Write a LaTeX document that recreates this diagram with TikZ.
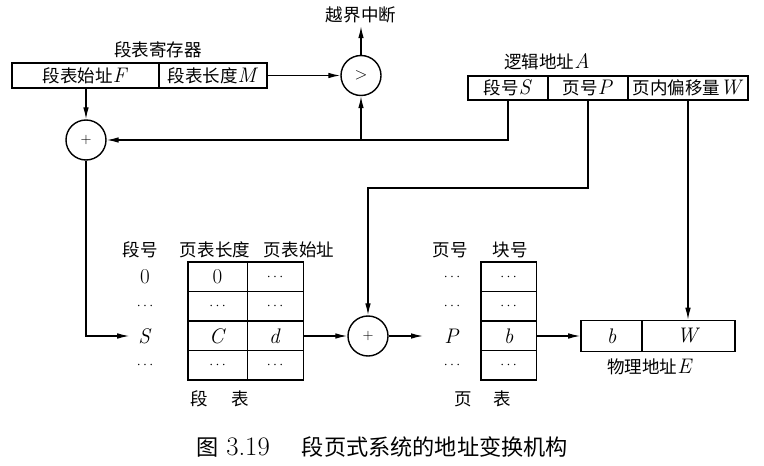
\documentclass[tikz,border=0pt]{standalone}
\usepackage{fontspec}
\newfontfamily\cjk[Scale=0.83]{Noto Sans CJK SC}
\newcommand\zh[1]{{\cjk #1}}
\newcommand\tecky{{\normalsize$\cdots$}}
\usetikzlibrary{positioning,arrows.meta,fit}
\tikzset{
  pole/.style={draw,line width=1.1pt,minimum height=0.6cm,inner sep=0pt},
  bunka/.style={draw,line width=0.7pt,minimum height=0.725cm,inner sep=0pt},
  ramec/.style={draw,line width=1.3pt,inner sep=0pt},
  kruh/.style={circle,draw,line width=1pt,minimum size=1cm,inner sep=0pt},
  sip/.style={-{Latex[length=3mm,width=1.4mm]},line width=0.9pt},
  popis/.style={inner sep=2pt},
}

\begin{document}
\begin{tikzpicture}[x=0.025cm,y=-0.025cm,font=\fontsize{15}{18}\selectfont]
  \useasboundingbox (0,0) rectangle (764,466);
  % segment table register, compare
  \node[pole,minimum width=3.675cm,minimum height=0.625cm] (regF) at (85.5,75.5) {\zh{段表始址}\textit{F}};
  \node[pole,minimum width=2.7cm,minimum height=0.625cm] (regM) at (213,75.5) {\zh{段表长度}\textit{M}};
  \node[popis] (regL) at (158,50) {\zh{段表寄存器}};
  \node[kruh] (cmp) at (361,75.5) {\fontsize{12}{14}\selectfont$>$}; \node[popis] (intr) at (361,15) {\zh{越界中断}};
  \node[kruh] (add1) at (86,140) {\normalsize$+$};
  % logical address
  \node[pole,minimum width=2cm] (laS) at (508,88) {\zh{段号}\textit{S}};
  \node[pole,minimum width=2cm] (laP) at (588,88) {\zh{页号}\textit{P}};
  \node[pole,minimum width=3cm] (laW) at (688,88) {\zh{页内偏移量}\textit{W}};
  \node[popis] (laL) at (547,62) {\zh{逻辑地址}\textit{A}};
  % segment table
  \node (shA) at (140,250) {\zh{段号}}; \node (shB) at (215,250) {\zh{页表长度}}; \node (shC) at (299,250) {\zh{页表始址}};
  \node (sr1) at (145,277) {0}; \node[bunka,minimum width=1.475cm] (s1a) at (217.5,277) {0}; \node[bunka,minimum width=1.4cm] (s1b) at (275,277) {\tecky};
  \node (sr2) at (145,306) {\tecky}; \node[bunka,minimum width=1.475cm] (s2a) at (217.5,306) {\tecky}; \node[bunka,minimum width=1.4cm] (s2b) at (275,306) {\tecky};
  \node (sr3) at (145,336) {\textit{S}}; \node[bunka,minimum width=1.475cm] (s3a) at (217.5,336) {\textit{C}}; \node[bunka,minimum width=1.4cm] (s3b) at (275,336) {\textit{d}};
  \node (sr4) at (145,365) {\tecky}; \node[bunka,minimum width=1.475cm] (s4a) at (217.5,365) {\tecky}; \node[bunka,minimum width=1.4cm] (s4b) at (275,365) {\tecky};
  \node[ramec,fit=(s1a)(s4b)] (segT) {};
  \node (segL) at (220,399) {\zh{段}\hspace{1.1em}\zh{表}};
  \node[kruh] (add2) at (368,336) {\normalsize$+$};
  % page table
  \node (phA) at (450,250) {\zh{页号}}; \node (phB) at (510,250) {\zh{块号}};
  \node (pr1) at (452,277) {\tecky}; \node[bunka,minimum width=1.375cm] (p1) at (508.5,277) {\tecky};
  \node (pr2) at (452,306) {\tecky}; \node[bunka,minimum width=1.375cm] (p2) at (508.5,306) {\tecky};
  \node (pr3) at (452,336) {\textit{P}}; \node[bunka,minimum width=1.375cm] (p3) at (508.5,336) {\textit{b}};
  \node (pr4) at (452,365) {\tecky}; \node[bunka,minimum width=1.375cm] (p4) at (508.5,365) {\tecky};
  \node[ramec,fit=(p1)(p4)] (pagT) {};
  \node (pagL) at (483,399) {\zh{页}\hspace{1em}\zh{表}};
  % physical address
  \node[pole,minimum width=1.525cm,minimum height=0.775cm] (phb) at (611.5,336) {\textit{b}};
  \node[pole,minimum width=2.325cm,minimum height=0.775cm] (phW) at (688.5,336) {\textit{W}};
  \node[popis] (phL) at (650,367) {\zh{物理地址}\textit{E}};
  \coordinate (ohyb) at (588,188); \coordinate (pin) at (423,336);
  \draw[sip] (add1 |- regF.south) -- (add1.north);
  \draw[sip] (regM.east) -- (cmp.west);
  \draw[sip] (cmp.north) -- (intr.south);
  \draw[sip] (laS.south) |- (add1.east);
  \draw[sip] (cmp |- add1) -- (cmp.south);
  \draw[sip] (laP.south) -- (ohyb) -| (add2.north);
  \draw[sip] (laW.south) -- (laW.south |- phW.north);
  \draw[sip,shorten >=3pt] (add1.south) |- (sr3.west);
  \draw[sip] (s3b.east) -- (add2.west);
  \draw[sip] (add2.east) -- (pin);
  \draw[sip] (p3.east) -- (phb.west);
  \node[font=\fontsize{19}{22}\selectfont] (cap) at (382,447) {\zh{图} 3.19\hspace{1.2em}\zh{段页式系统的地址变换机构}};
\end{tikzpicture}
\end{document}
